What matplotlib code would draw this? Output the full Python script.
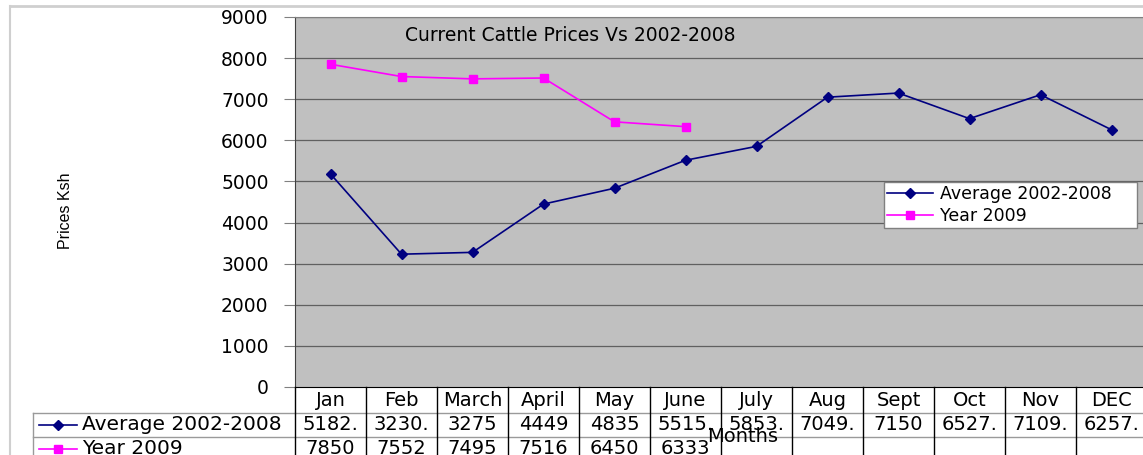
import matplotlib.pyplot as plt
from matplotlib.lines import Line2D

# chart data
months = ['Jan', 'Feb', 'March', 'April', 'May', 'June', 'July', 'Aug', 'Sept', 'Oct', 'Nov', 'DEC']
avg_2002_2008 = [5182.4, 3230.4, 3275, 4449, 4835, 5515.3, 5853.3, 7049.4, 7150, 6527.4, 7109.3, 6257.4]
year_2009 = [7850, 7552, 7495, 7516, 6450, 6333]
series_names = ['Average 2002-2008', 'Year 2009']
yticks = [0, 1000, 2000, 3000, 4000, 5000, 6000, 7000, 8000, 9000]

W, H = 1143, 455
NAVY = '#000080'
MAGENTA = '#FF00FF'


def cell_text(v):
    # the narrow Excel cells cut the decimals off after the point
    if float(v).is_integer():
        return str(int(v))
    return f"{v:.1f}"[:5]


fig = plt.figure(figsize=(W / 100, H / 100), dpi=100)

# plot area (pixel box 295..1147 x 17..387)
left, right, top, bottom = 295, 1147, 17, 387
ax = fig.add_axes([left / W, 1 - bottom / H, (right - left) / W, (bottom - top) / H])
ax.set_facecolor('#C0C0C0')
x = list(range(len(months)))
ax.plot(x, avg_2002_2008, color=NAVY, lw=1.2, marker='D', ms=5, label=series_names[0])
ax.plot(x[:len(year_2009)], year_2009, color=MAGENTA, lw=1.2, marker='s', ms=6,
        label=series_names[1])
ax.set_xlim(-0.5, len(months) - 0.5)
ax.set_ylim(0, 9000)
ax.set_yticks(yticks)
ax.set_yticklabels([str(t) for t in yticks], fontsize=13.5, family='DejaVu Sans')
ax.tick_params(axis='y', length=8, width=0.8, color='#808080', pad=11)
ax.set_xticks([])
for t in yticks[1:]:
    ax.axhline(t, color='#606060', lw=0.9, zorder=0.5)
for s in ['top', 'right']:
    ax.spines[s].set_color('#808080')
ax.spines['left'].set_color('#404040')
ax.spines['bottom'].set_color('black')
ax.text(0.129, 0.975, 'Current Cattle Prices Vs 2002-2008', transform=ax.transAxes,
        fontsize=13.5, family='DejaVu Sans', va='top', ha='left')

# legend box spans pixels 884..1137 x 182..226
leg = ax.legend(loc='upper left', bbox_to_anchor=(884 / W, 1 - 226 / H, 253 / W, 44 / H),
                bbox_transform=fig.transFigure, mode='expand', fontsize=12.5, frameon=True,
                fancybox=False, edgecolor='#808080', framealpha=1,
                handlelength=2.6, borderpad=0.2, labelspacing=0.2, handletextpad=0.4,
                borderaxespad=0)
leg.get_frame().set_linewidth(1.0)
for txt in leg.get_texts():
    txt.set_family('DejaVu Sans')

# overlay in pixel coordinates for the chart frame and data table
ov = fig.add_axes([0, 0, 1, 1], zorder=-1)
ov.set_xlim(0, W)
ov.set_ylim(H, 0)
ov.axis('off')
ov2 = fig.add_axes([0, 0, 1, 1], zorder=5)
ov2.set_xlim(0, W)
ov2.set_ylim(H, 0)
ov2.axis('off')
ov2.patch.set_alpha(0)

ov.plot([10, W], [6, 6], color='#cfcfcf', lw=2)
ov.plot([10, 10], [6, H], color='#cfcfcf', lw=1.5)

col_w = (right - left) / len(months)
row_y = [387, 413, 437, 461]
key_left = 33

# table grid
ov2.plot([left, W], [row_y[1], row_y[1]], color='#9a9a9a', lw=1)
ov2.plot([key_left, W], [row_y[2], row_y[2]], color='#9a9a9a', lw=1)
ov2.plot([key_left, left], [row_y[1], row_y[1]], color='#9a9a9a', lw=1)
ov2.plot([key_left, key_left], [row_y[1], H], color='#9a9a9a', lw=1)
for i in range(len(months) + 1):
    xe = left + i * col_w
    ov2.plot([xe, xe], [row_y[0], H], color='black', lw=1)

# header row
for i, m in enumerate(months):
    ov2.text(left + (i + 0.5) * col_w, (row_y[0] + row_y[1]) / 2 + 1, m,
             ha='center', va='center', fontsize=14, family='DejaVu Sans')

# series rows
rows = [avg_2002_2008, year_2009]
styles = [(NAVY, 'D', 5), (MAGENTA, 's', 6)]
for r, (vals, name, (c, mk, ms)) in enumerate(zip(rows, series_names, styles)):
    yc = (row_y[r + 1] + row_y[r + 2]) / 2
    ov2.add_line(Line2D([39, 77], [yc, yc], color=c, lw=1.2))
    ov2.plot([58], [yc], marker=mk, ms=ms, color=c)
    ov2.text(82, yc, name, ha='left', va='center', fontsize=14.5, family='DejaVu Sans')
    for i, v in enumerate(vals):
        ov2.text(left + (i + 0.5) * col_w, yc, cell_text(v), ha='center', va='center',
                 fontsize=14, family='DejaVu Sans')

ov2.text(743, 437, 'Months', ha='center', va='center', fontsize=14, family='DejaVu Sans')
ov2.text(66, 211, 'Prices Ksh', rotation=90, ha='center', va='center', fontsize=11.5,
         family='Liberation Sans')

fig.savefig('out.png', dpi=100)
